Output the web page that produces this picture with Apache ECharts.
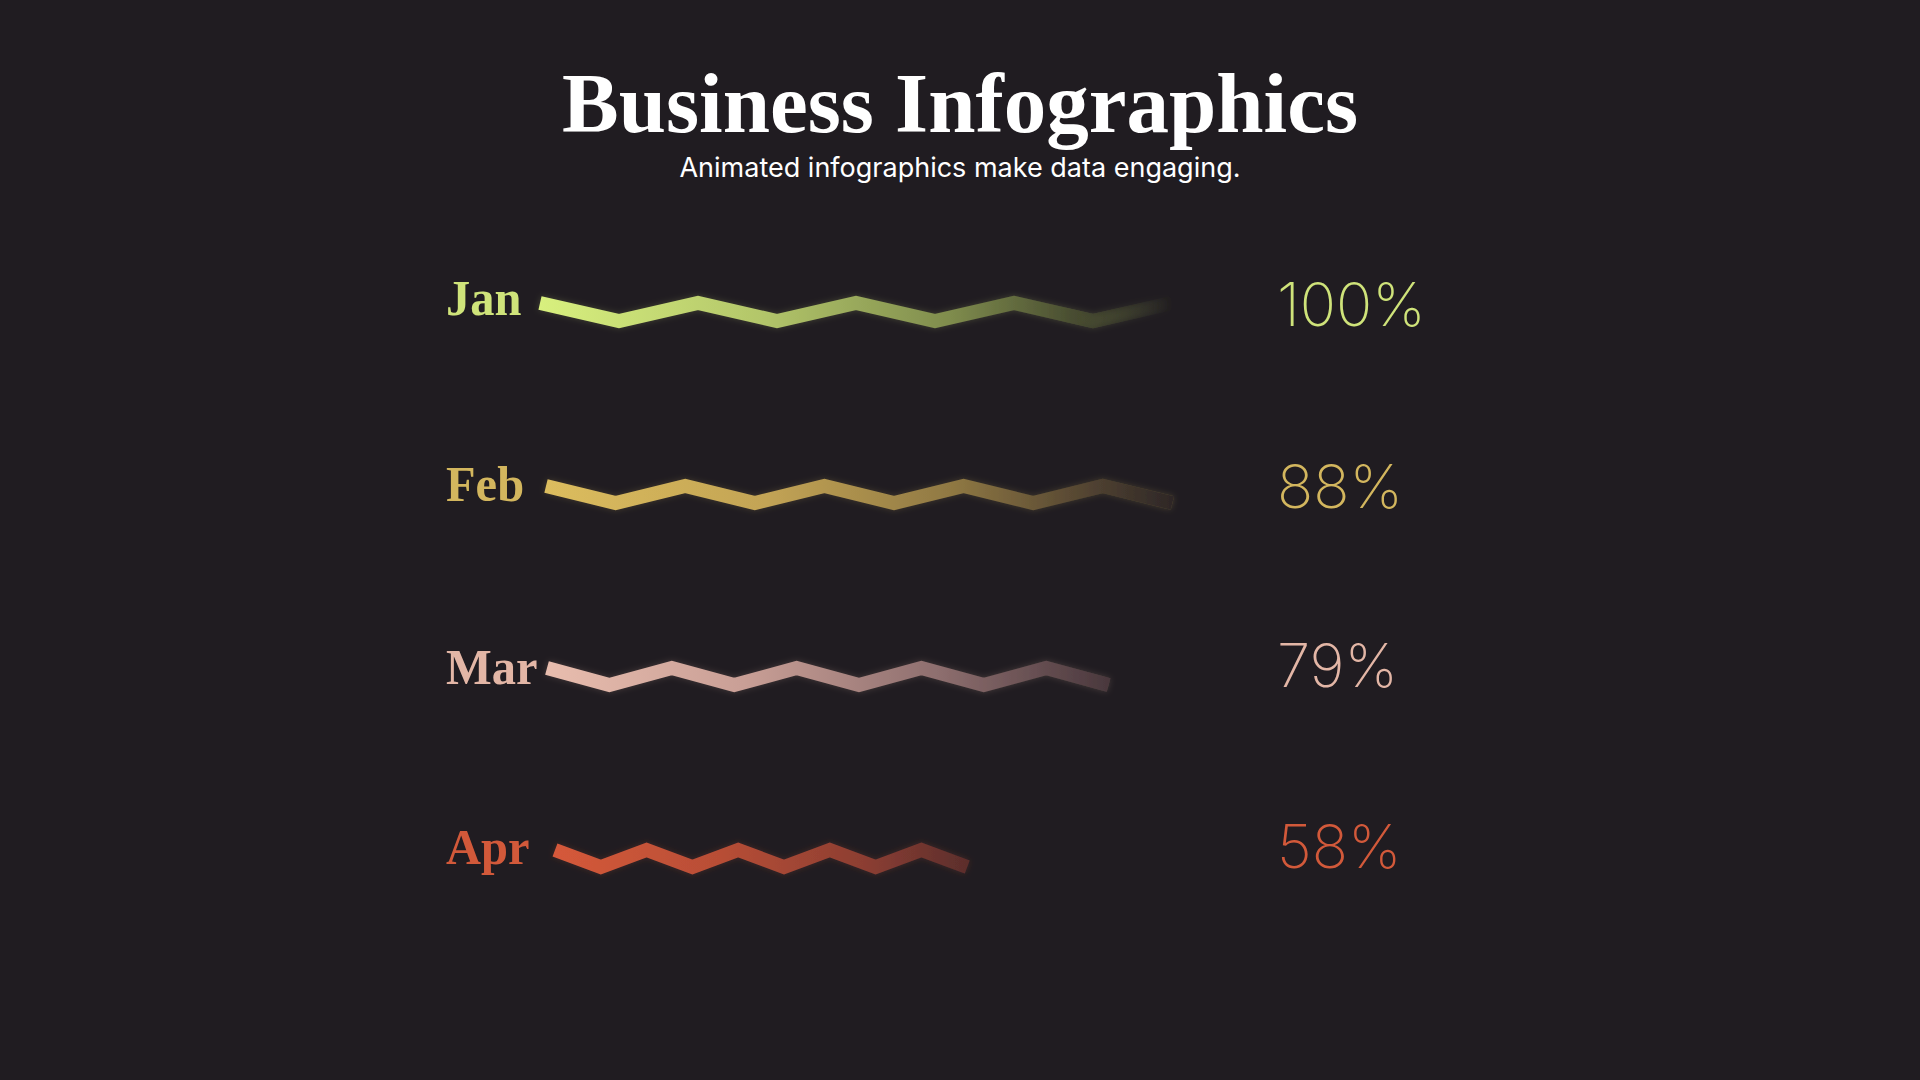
<!DOCTYPE html>
<html>
<head>
<meta charset="utf-8">
<title>Business Infographics</title>
<script src="https://cdn.jsdelivr.net/npm/echarts@6/dist/echarts.min.js"></script>
<style>
  html, body { margin: 0; padding: 0; background: #201c21; }
  #chart { width: 1920px; height: 1080px; }
</style>
</head>
<body>
<div id="chart"></div>
<script>
// ---- data ----
const months = ['Jan', 'Feb', 'Mar', 'Apr'];
const percents = [100, 88, 79, 58];
const janWave = [1, 0, 1, 0, 1, 0, 1, 0, 1];
const febWave = [1, 0, 1, 0, 1, 0, 1, 0, 1, 0];
const marWave = [1, 0, 1, 0, 1, 0, 1, 0, 1, 0];
const aprWave = [1, 0, 1, 0, 1, 0, 1, 0, 1, 0];
const waves = [janWave, febWave, marWave, aprWave];

// ---- styles / layout ----
const textColors = ['#cfe37a', '#d3b65e', '#e3b6a6', '#d2593a'];
const lineStops = [
  [[0, '#d8f07e'], [0.35, '#b3c66a'], [0.65, '#7f8c4d'], [0.85, '#474b30'], [1, 'rgba(32,28,33,0)']],
  [[0, '#dcbd5e'], [0.35, '#c3a455'], [0.65, '#8f7843'], [0.88, '#4e4030'], [1, '#2e2727']],
  [[0, '#e8bdae'], [0.35, '#c99f96'], [0.7, '#8d6e6e'], [1, '#4a383d']],
  [[0, '#d5593a'], [0.4, '#b84e36'], [0.75, '#8c3e32'], [1, '#5c2e2c']]
];
const rows = [
  { left: 540, step: 79,   peak: 303, valley: 321, labelY: 298, pctY: 304 },
  { left: 546, step: 69.6, peak: 486, valley: 503, labelY: 484, pctY: 486 },
  { left: 547, step: 62.4, peak: 668, valley: 685, labelY: 667, pctY: 665 },
  { left: 555, step: 45.8, peak: 850, valley: 867, labelY: 847, pctY: 846 }
];

const chart = echarts.init(document.getElementById('chart'), null, { renderer: 'svg' });

const grid = [], xAxis = [], yAxis = [], series = [], graphic = [];
rows.forEach((r, i) => {
  const n = waves[i].length;
  grid.push({ left: r.left, width: (n - 1) * r.step, top: r.peak, height: r.valley - r.peak, containLabel: false });
  xAxis.push({ type: 'category', gridIndex: i, boundaryGap: false, data: waves[i].map((_, k) => String(k)), show: false });
  yAxis.push({ type: 'value', gridIndex: i, min: 0, max: 1, show: false });
  series.push({
    type: 'line', xAxisIndex: i, yAxisIndex: i, data: waves[i],
    showSymbol: false, symbol: 'none', clip: false, silent: true,
    lineStyle: {
      width: 14, cap: 'butt', join: 'miter',
      color: new echarts.graphic.LinearGradient(0, 0, 1, 0,
        lineStops[i].map(s => ({ offset: s[0], color: s[1] }))),
      shadowBlur: 6, shadowColor: textColors[i] + '33'
    }
  });
  graphic.push({
    type: 'text', left: 446, top: r.labelY - 25, z: 10, scaleX: 0.97, originX: 0,
    style: { text: months[i], fill: textColors[i], font: 'bold 50px "Liberation Serif", "DejaVu Serif", serif', verticalAlign: 'top' }
  });
  graphic.push({
    type: 'text', left: 1277, top: r.pctY - 30, z: 10,
    style: { text: percents[i] + '%', fill: textColors[i], font: '200 60px Inter, Lato, "Open Sans", sans-serif', verticalAlign: 'top' }
  });
});

graphic.push({
  type: 'text', left: 'center', top: 60, z: 10,
  style: { text: 'Business Infographics', fill: '#ffffff', font: 'bold 85px "Liberation Serif", "DejaVu Serif", serif' }
});
graphic.push({
  type: 'text', left: 'center', top: 154, z: 10,
  style: { text: 'Animated infographics make data engaging.', fill: '#ffffff', font: '400 27px Inter, Lato, sans-serif' }
});

chart.setOption({
  backgroundColor: '#201c21',
  animation: false,
  grid, xAxis, yAxis, series, graphic
});
</script>
</body>
</html>
